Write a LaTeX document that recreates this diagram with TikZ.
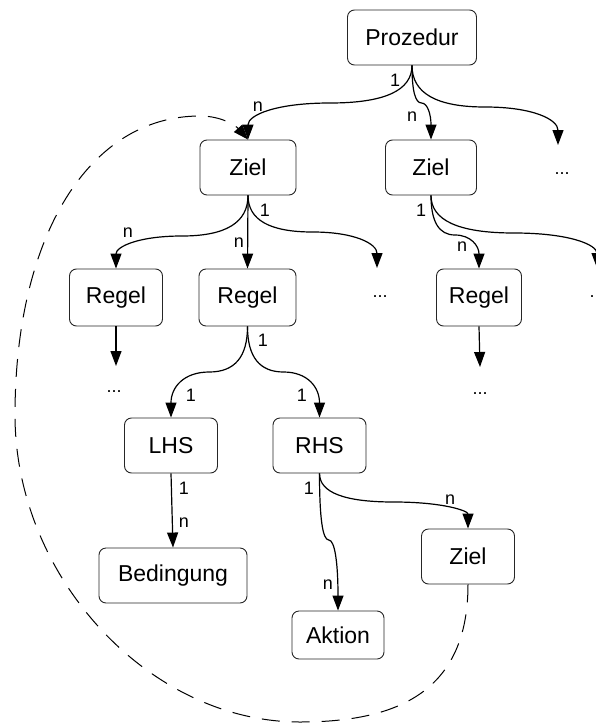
\documentclass[tikz,border=0pt]{standalone}
\usepackage{fontspec}
\setmainfont{Liberation Sans}
\usetikzlibrary{arrows.meta,calc}

% Curved orthogonal connector: down from the source, across at height #4, down into the target
\newcommand\bentflow[4][]{%
  \coordinate (bw1) at (#2 |- 0,#4);
  \coordinate (bw2) at (#3 |- 0,#4);
  \draw[flow,#1] (#2) .. controls ($(#2)!2/3!(bw1)$) and ($(bw1)!1/6!(bw2)$) .. ($(bw1)!.5!(bw2)$)
     .. controls ($(bw1)!5/6!(bw2)$) and ($(#3)!2/3!(bw2)$) .. (#3);
}

\tikzset{
  box/.style={draw=black!85, line width=0.9pt, rounded corners=7pt,
    font=\fontsize{23}{27}\selectfont, inner sep=0pt, align=center},
  flow/.style={line width=1.2pt, -{Triangle[length=15pt,width=11pt]}},
  mult/.style={font=\fontsize{18}{20}\selectfont, inner sep=0pt},
  more/.style={font=\fontsize{18}{20}\selectfont, inner sep=0pt, anchor=base},
  loopback/.style={line width=1pt, dash pattern=on 18pt off 12pt,
    -{Triangle[length=15pt,width=11pt]}}
}

\begin{document}
\begin{tikzpicture}[x=1pt,y=-1pt]
\useasboundingbox (0,0) rectangle (595,725);

% boxes
\node[box, minimum width=129pt, minimum height=55pt] (P)   at (412,37.5)  {Prozedur};
\node[box, minimum width=96pt,  minimum height=55pt] (Z1)  at (248,167.5) {Ziel};
\node[box, minimum width=91pt,  minimum height=55pt] (Z2)  at (431,167.5) {Ziel};
\node[box, minimum width=93pt,  minimum height=57pt] (R1)  at (116,297.5) {Regel};
\node[box, minimum width=97pt,  minimum height=57pt] (R2)  at (247.5,297.5) {Regel};
\node[box, minimum width=85pt,  minimum height=57pt] (R3)  at (479,297.5) {Regel};
\node[box, minimum width=93pt,  minimum height=55pt] (LHS) at (171,445.5) {LHS};
\node[box, minimum width=93pt,  minimum height=55pt] (RHS) at (319.5,445.5) {RHS};
\node[box, minimum width=148pt, minimum height=55pt] (Bed) at (173,575.5) {Bedingung};
\node[box, minimum width=92pt,  minimum height=48pt] (Akt) at (338,635)   {Aktion};
\node[box, minimum width=93pt,  minimum height=55pt] (Z3)  at (468,556.5) {Ziel};

% elided siblings
\node[more] (d1) at (562,174) {...};
\node[more] (d2) at (380,297) {...};
\node[more] (d3) at (114,392) {...};
\node[more] (d4) at (480,394) {...};
\node[more] (d5) at (597,297) {...};

% free arrow ends above the elided siblings
\coordinate (t1) at (558,145);
\coordinate (t2) at (377,268);
\coordinate (t3) at (116,366);
\coordinate (t4) at (480,367);
\coordinate (t5) at (597,268);

% Prozedur
\bentflow{P.south}{Z1.north}{103}
\bentflow{P.south}{Z2.north}{103}
\bentflow{P.south}{t1}{107}

% first Ziel
\bentflow{Z1.south}{R1.north}{236}
\draw[flow] (Z1.south) -- (R2.north);
\bentflow{Z1.south}{t2}{232}
\draw[flow] (R1.south) -- (t3);

% second Ziel
\bentflow{Z2.south}{R3.north}{235}
\bentflow{Z2.south}{t5}{233}
\draw[flow] (R3.south) -- (t4);

% Regel
\bentflow{R2.south}{LHS.north}{372}
\bentflow{R2.south}{RHS.north}{372}

% LHS / RHS
\draw[flow] (LHS.south) -- (Bed.north);
\bentflow{RHS.south}{Akt.north}{540}
\bentflow{RHS.south}{Z3.north}{502}

% recursion: Ziel refers back to Ziel
\draw[loopback] (Z3.south) .. controls (468,690) and (400,722) .. (300,722)
  .. controls (148,722) and (15,576) .. (15,415)
  .. controls (15,236) and (89,116) .. (200,116)
  .. controls (222,116) and (236,126) .. (Z1.north);

% multiplicities
\node[mult] (m1)  at (395,80)  {1};
\node[mult] (m2)  at (258,107) {n};
\node[mult] (m3)  at (412,117) {n};
\node[mult] (m4)  at (265,210) {1};
\node[mult] (m5)  at (128,233) {n};
\node[mult] (m6)  at (239,243) {n};
\node[mult] (m7)  at (421,210) {1};
\node[mult] (m8)  at (462,247) {n};
\node[mult] (m9)  at (263,340) {1};
\node[mult] (m10) at (191,395) {1};
\node[mult] (m11) at (302,395) {1};
\node[mult] (m12) at (184,488) {1};
\node[mult] (m13) at (184,523) {n};
\node[mult] (m14) at (309,488) {1};
\node[mult] (m15) at (328,585) {n};
\node[mult] (m16) at (450,500) {n};
\end{tikzpicture}
\end{document}
